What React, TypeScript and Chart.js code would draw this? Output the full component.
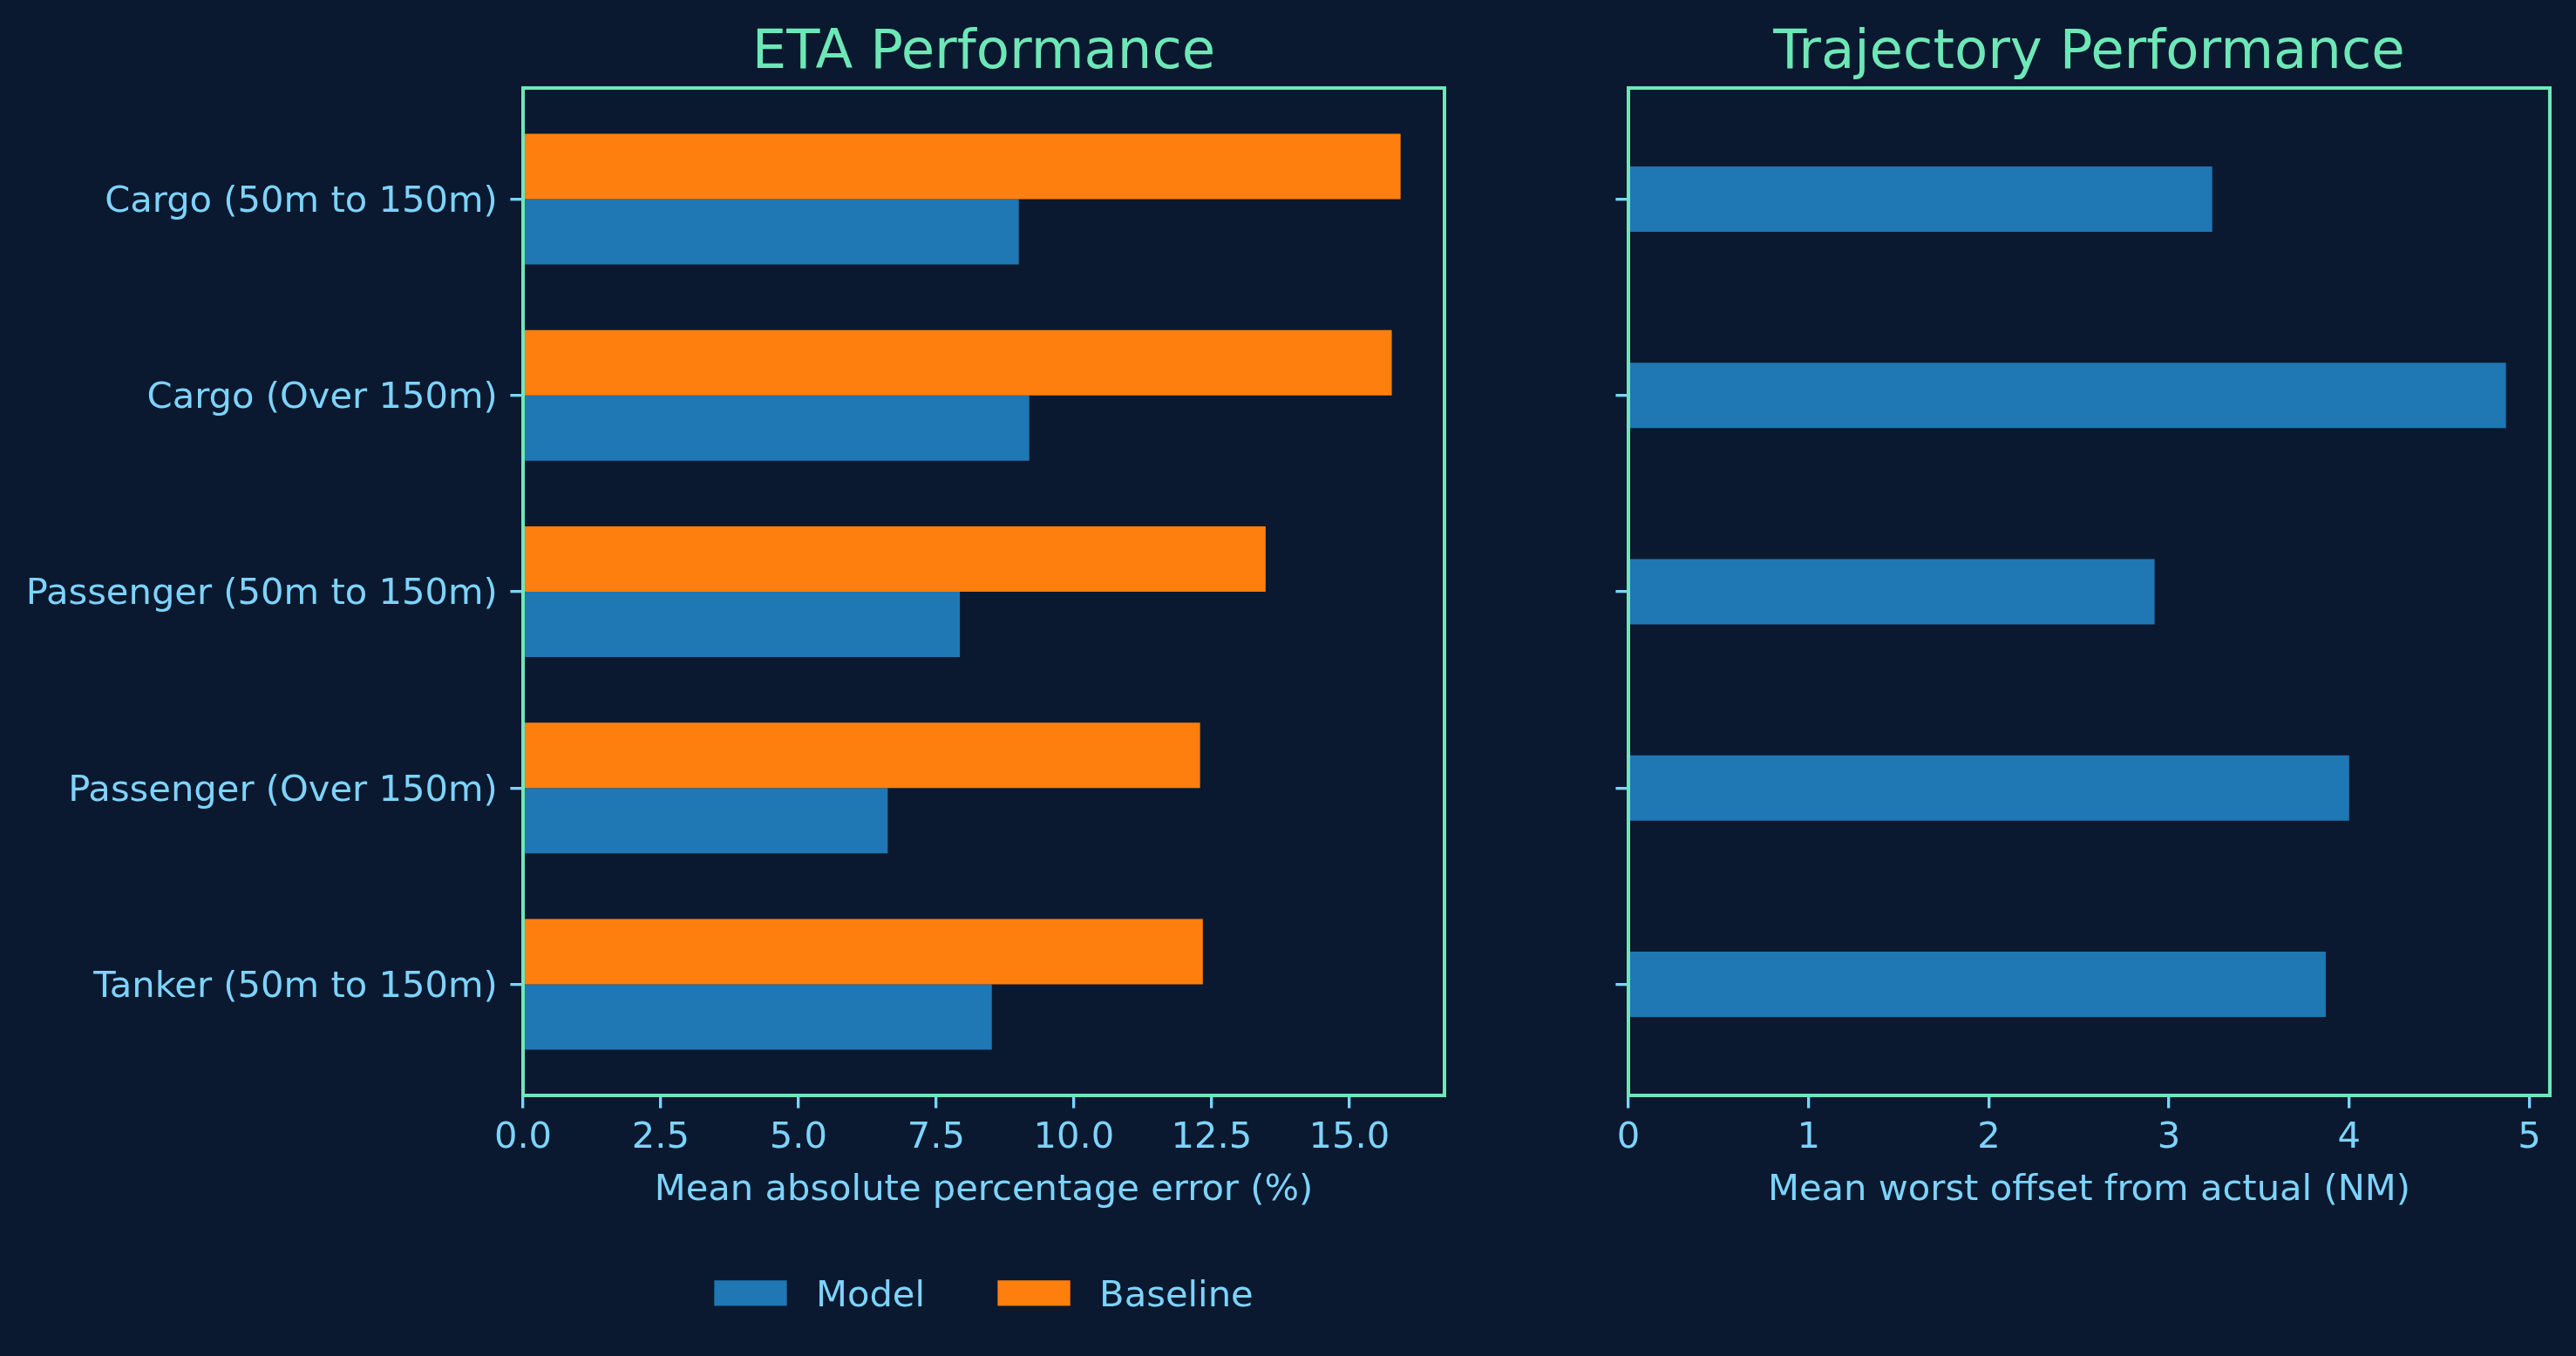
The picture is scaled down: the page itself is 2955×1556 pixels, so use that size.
import React, { useEffect, useRef } from 'react';
import { Chart, registerables } from 'chart.js';

Chart.register(...registerables);

// ---------- data ----------
const categories = [
  'Cargo (50m to 150m)',
  'Cargo (Over 150m)',
  'Passenger (50m to 150m)',
  'Passenger (Over 150m)',
  'Tanker (50m to 150m)',
];
const etaModel = [9.0, 9.19, 7.93, 6.62, 8.51];
const etaBaseline = [15.93, 15.77, 13.48, 12.29, 12.34];
const trajModel = [3.24, 4.87, 2.92, 4.0, 3.87];
const etaTicks = [0, 2.5, 5, 7.5, 10, 12.5, 15];
const trajTicks = [0, 1, 2, 3, 4, 5];

// ---------- style ----------
const BG = '#0a192f';
const MINT = '#6ee7b7';
const SKY = '#7dd3fc';
const BLUE = '#1f77b4';
const ORANGE = '#ff7f0e';
const FONT = 'DejaVu Sans';
const TICK = 41.67;
const TITLE = 62.5;
const TICK_LEN = 14.6;
const TICK_W = 3.33;
const BAR_H = 0.333;

const nCat = categories.length;
const ySpan = nCat - 1 + 2 * BAR_H;
const Y_MIN = -BAR_H - 0.05 * ySpan;
const Y_MAX = nCat - 1 + BAR_H + 0.05 * ySpan;

Chart.defaults.font.family = FONT;

const framePlugin = {
  id: 'frame',
  afterDatasetsDraw(chart: any) {
    const { ctx, chartArea: a } = chart;
    ctx.save();
    ctx.strokeStyle = MINT;
    ctx.lineWidth = 4;
    ctx.strokeRect(a.left, a.top, a.right - a.left, a.bottom - a.top);
    ctx.restore();
  },
};

const legendPlugin = {
  id: 'bottomLegend',
  afterDraw(chart: any) {
    const { ctx, chartArea: a } = chart;
    const items = chart.data.datasets
      .map((d: any) => ({ label: d.label, color: d.backgroundColor }))
      .reverse();
    ctx.save();
    ctx.font = `${TICK}px "${FONT}"`;
    const handle = 2 * TICK;
    const handleH = 0.7 * TICK;
    const pad = 0.8 * TICK;
    const col = 2 * TICK;
    const widths = items.map((it: any) => ctx.measureText(it.label).width);
    const total =
      items.reduce((s: number, _it: any, i: number) => s + handle + pad + widths[i], 0) +
      col * (items.length - 1);
    let x = (a.left + a.right) / 2 - total / 2;
    const baseline = a.bottom + 242;
    const boxTop = baseline - (0.729 * TICK) / 2 - handleH / 2;
    ctx.textBaseline = 'alphabetic';
    ctx.textAlign = 'left';
    items.forEach((it: any, i: number) => {
      ctx.fillStyle = it.color;
      ctx.fillRect(x, boxTop, handle, handleH);
      ctx.fillStyle = SKY;
      ctx.fillText(it.label, x + handle + pad, baseline);
      x += handle + pad + widths[i] + col;
    });
    ctx.restore();
  },
};

function xScale(max: number, ticks: number[], title: string, fmt: (v: number) => string) {
  return {
    type: 'linear',
    position: 'bottom',
    min: 0,
    max,
    offset: false,
    afterBuildTicks: (s: any) => {
      s.ticks = ticks.map((v) => ({ value: v }));
    },
    afterFit: (s: any) => {
      s.height = 160;
    },
    ticks: {
      color: SKY,
      font: { size: TICK },
      padding: 10,
      autoSkip: false,
      maxRotation: 0,
      callback: (v: any) => fmt(Number(v)),
    },
    grid: {
      display: true,
      offset: false,
      drawOnChartArea: false,
      drawTicks: true,
      tickLength: TICK_LEN,
      lineWidth: TICK_W,
      tickWidth: TICK_W,
      tickColor: SKY,
      color: SKY,
    },
    border: { display: false },
    title: {
      display: true,
      text: title,
      color: SKY,
      font: { size: TICK },
      padding: { top: 0, bottom: 26 },
    },
  };
}

function yScale(width: number, showLabels: boolean) {
  return {
    type: 'linear',
    position: 'left',
    reverse: true,
    offset: false,
    min: Y_MIN,
    max: Y_MAX,
    afterBuildTicks: (s: any) => {
      s.ticks = categories.map((_c, i) => ({ value: i }));
    },
    afterFit: (s: any) => {
      s.width = width;
    },
    ticks: {
      display: showLabels,
      color: SKY,
      font: { size: TICK },
      padding: TICK_LEN,
      labelOffset: 3.5,
      autoSkip: false,
      callback: (v: any) => categories[Number(v)] ?? '',
    },
    grid: {
      display: true,
      offset: false,
      drawOnChartArea: false,
      drawTicks: true,
      tickLength: TICK_LEN,
      lineWidth: TICK_W,
      tickWidth: TICK_W,
      tickColor: SKY,
      color: SKY,
    },
    border: { display: false },
  };
}

function titleOpts(text: string) {
  return {
    display: true,
    text,
    color: MINT,
    fullSize: false,
    font: { size: TITLE, weight: 'normal' as const },
    padding: { top: 24, bottom: 2 },
  };
}

export default function App() {
  const leftRef = useRef<HTMLCanvasElement>(null);
  const rightRef = useRef<HTMLCanvasElement>(null);

  useEffect(() => {
    const left = new Chart(leftRef.current as HTMLCanvasElement, {
      type: 'bar',
      data: {
        datasets: [
          {
            label: 'Baseline',
            data: etaBaseline.map((v, i) => ({ x: v, y: i })),
            backgroundColor: ORANGE,
            borderWidth: 0,
            categoryPercentage: 2 * BAR_H,
            barPercentage: 1,
          },
          {
            label: 'Model',
            data: etaModel.map((v, i) => ({ x: v, y: i })),
            backgroundColor: BLUE,
            borderWidth: 0,
            categoryPercentage: 2 * BAR_H,
            barPercentage: 1,
          },
        ],
      },
      options: {
        indexAxis: 'y',
        responsive: false,
        animation: false,
        events: [],
        layout: { padding: { left: 0, top: 0, right: 103, bottom: 139 } },
        plugins: {
          legend: { display: false },
          tooltip: { enabled: false },
          title: titleOpts('ETA Performance'),
        },
        scales: {
          x: xScale(
            Math.max(...etaBaseline, ...etaModel) * 1.05,
            etaTicks,
            'Mean absolute percentage error (%)',
            (v) => v.toFixed(1)
          ),
          y: yScale(600, true),
        },
      } as any,
      plugins: [framePlugin, legendPlugin],
    });

    const right = new Chart(rightRef.current as HTMLCanvasElement, {
      type: 'bar',
      data: {
        datasets: [
          {
            label: 'Model',
            data: trajModel.map((v, i) => ({ x: v, y: i })),
            backgroundColor: BLUE,
            borderWidth: 0,
            categoryPercentage: BAR_H,
            barPercentage: 1,
          },
        ],
      },
      options: {
        indexAxis: 'y',
        responsive: false,
        animation: false,
        events: [],
        layout: { padding: { left: 0, top: 0, right: 30, bottom: 139 } },
        plugins: {
          legend: { display: false },
          tooltip: { enabled: false },
          title: titleOpts('Trajectory Performance'),
        },
        scales: {
          x: xScale(
            Math.max(...trajModel) * 1.05,
            trajTicks,
            'Mean worst offset from actual (NM)',
            (v) => String(v)
          ),
          y: yScale(108, false),
        },
      } as any,
      plugins: [framePlugin],
    });

    return () => {
      left.destroy();
      right.destroy();
    };
  }, []);

  return (
    <div
      style={{
        position: 'absolute',
        left: 0,
        top: 0,
        width: 2955,
        height: 1556,
        background: BG,
        overflow: 'hidden',
      }}
    >
      <canvas
        ref={leftRef}
        width={1760}
        height={1556}
        style={{ position: 'absolute', left: 0, top: 0, width: 1760, height: 1556 }}
      />
      <canvas
        ref={rightRef}
        width={1195}
        height={1556}
        style={{ position: 'absolute', left: 1760, top: 0, width: 1195, height: 1556 }}
      />
    </div>
  );
}
